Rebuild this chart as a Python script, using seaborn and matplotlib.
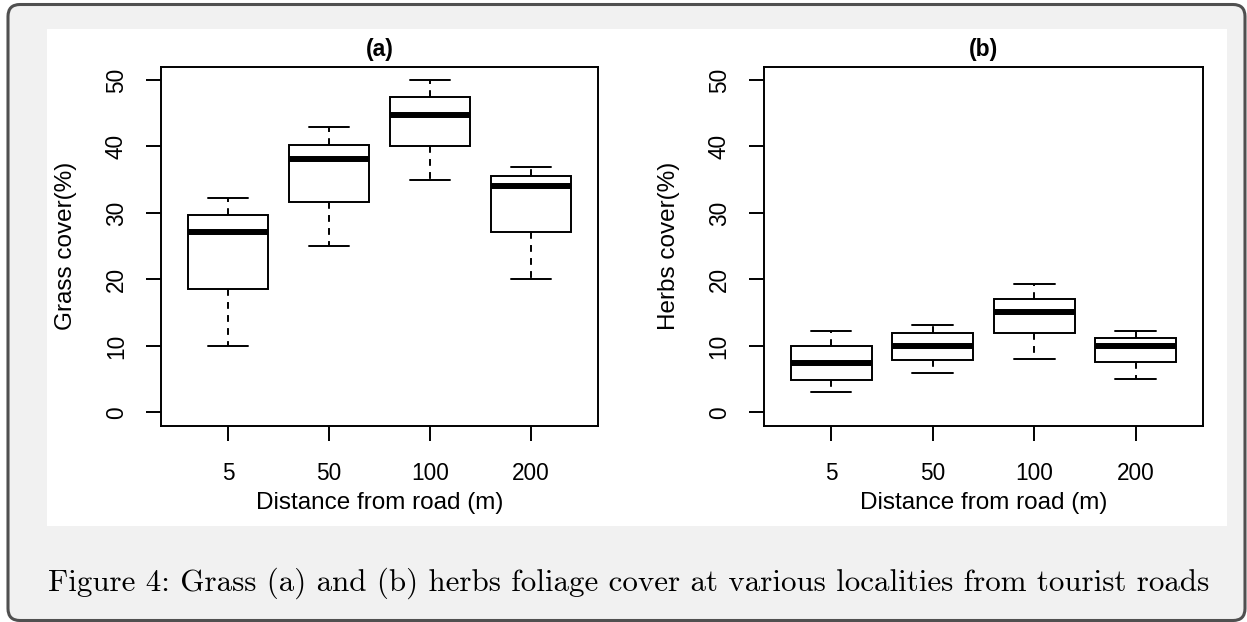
import numpy as np
import pandas as pd
import matplotlib
matplotlib.use("Agg")
import matplotlib.pyplot as plt
from matplotlib.patches import FancyBboxPatch, Rectangle
from matplotlib.transforms import IdentityTransform
import seaborn as sns

# ---------------- data (five-number summaries) ----------------
distances = ["5", "50", "100", "200"]

grass_min = [10.0, 25.0, 35.0, 20.0]
grass_q1 = [18.6, 31.7, 40.0, 27.2]
grass_median = [27.1, 38.1, 44.8, 34.1]
grass_q3 = [29.7, 40.2, 47.4, 35.6]
grass_max = [32.2, 42.9, 50.0, 36.9]

herbs_min = [3.0, 6.0, 8.0, 5.0]
herbs_q1 = [4.9, 7.9, 11.9, 7.6]
herbs_median = [7.4, 10.0, 15.1, 10.0]
herbs_q3 = [10.0, 11.9, 17.0, 11.2]
herbs_max = [12.2, 13.2, 19.3, 12.2]

y_ticks = [0, 10, 20, 30, 40, 50]
panel_titles = ["(a)", "(b)"]
y_labels = ["Grass cover(%)", "Herbs cover(%)"]
x_label = "Distance from road (m)"
caption = ("Figure 4: Grass (a) and (b) herbs foliage cover at various "
           "localities from tourist roads")


def summary_frame(mins, q1s, meds, q3s, maxs):
    rows = []
    for d, a, b, c, e, f in zip(distances, mins, q1s, meds, q3s, maxs):
        for v in (a, b, c, e, f):
            rows.append({"distance": d, "cover": v})
    return pd.DataFrame(rows)


grass_df = summary_frame(grass_min, grass_q1, grass_median, grass_q3, grass_max)
herbs_df = summary_frame(herbs_min, herbs_q1, herbs_median, herbs_q3, herbs_max)

# ---------------- figure ----------------
sns.set_style("ticks")
plt.rcParams["font.family"] = ["Liberation Sans", "DejaVu Sans"]

W, H = 1247, 622
fig = plt.figure(figsize=(W / 100, H / 100), dpi=100, facecolor="white")

ident = IdentityTransform()
fig.add_artist(FancyBboxPatch((8, 1.5), 1237, 616,
                              boxstyle="round,pad=0,rounding_size=12",
                              transform=ident, facecolor="#f1f1f1",
                              edgecolor="#505050", linewidth=2.2, zorder=-10))
fig.add_artist(Rectangle((46.7, 96.3), 1180, 496.7, transform=ident,
                         facecolor="white", edgecolor="none", zorder=-9))

ax_a = fig.add_axes([161.3 / W, 196.3 / H, 436.4 / W, 359 / H])
ax_b = fig.add_axes([764.2 / W, 196.3 / H, 438.5 / W, 359 / H])

LW = 1.4
for ax, df, title, ylab, ylx in [(ax_a, grass_df, panel_titles[0], y_labels[0], -0.193),
                                 (ax_b, herbs_df, panel_titles[1], y_labels[1], -0.192)]:
    sns.boxplot(data=df, x="distance", y="cover", order=distances, ax=ax,
                color="white", saturation=1, linecolor="black", linewidth=LW,
                width=0.8, whis=np.inf, fliersize=0,
                boxprops=dict(facecolor="white", edgecolor="black", linewidth=LW),
                medianprops=dict(color="black", linewidth=4.3, solid_capstyle="butt"),
                whiskerprops=dict(color="black", linewidth=LW,
                                  linestyle=(0, (3.5, 3.2))),
                capprops=dict(color="black", linewidth=LW))
    ax.set_facecolor("white")
    ax.set_xlim(-0.66, 3.66)
    ax.set_ylim(-2, 52)
    ax.set_yticks(y_ticks)
    ax.set_yticklabels([str(t) for t in y_ticks], rotation=90, va="center")
    for s in ax.spines.values():
        s.set_visible(True)
        s.set_linewidth(LW)
        s.set_color("black")
    ax.tick_params(axis="both", direction="out", length=10.8, width=LW,
                   color="black", labelcolor="black", labelsize=16.3)
    ax.tick_params(axis="y", pad=13.3)
    ax.tick_params(axis="x", pad=15.3)
    ax.set_xlabel(x_label, fontsize=17.5, color="black")
    ax.xaxis.set_label_coords(0.5, -66.6 / 359)
    ax.set_ylabel(ylab, fontsize=17.5, color="black")
    ax.yaxis.set_label_coords(ylx, 0.5)
    ax.text(0.5, 1 + 16.7 / 359, title, transform=ax.transAxes, ha="center",
            va="center", fontsize=16.5, fontweight="bold", color="black")

fig.text(47.8 / W, (622 - 590.7) / H, caption, family="cmr10", fontsize=22.3,
         ha="left", va="baseline", color="black")

fig.savefig("out.png", dpi=100, facecolor="white")
